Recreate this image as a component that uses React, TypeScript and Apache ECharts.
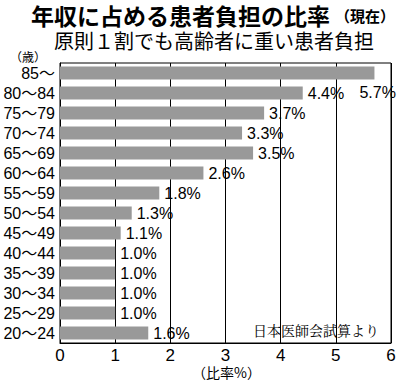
import React, { useEffect, useRef } from "react";
import * as echarts from "echarts";

const categories = ["85～", "80～84", "75～79", "70～74", "65～69", "60～64", "55～59", "50～54", "45～49", "40～44", "35～39", "30～34", "25～29", "20～24"];
const values = [5.7, 4.4, 3.7, 3.3, 3.5, 2.6, 1.8, 1.3, 1.1, 1.0, 1.0, 1.0, 1.0, 1.6];
const xTicks = [0, 1, 2, 3, 4, 5, 6];

const FONT = '"Noto Sans CJK JP", "Noto Sans", sans-serif';
const NUMFONT = '"Liberation Sans", "Noto Sans CJK JP", sans-serif';

export default function App() {
  const ref = useRef<HTMLDivElement>(null);
  useEffect(() => {
    if (!ref.current) return;
    const chart = echarts.init(ref.current, null, { renderer: "svg" });
    chart.setOption({
      animation: false,
      backgroundColor: "#fff",
      textStyle: { fontFamily: FONT },
      graphic: [
        { type: "text", x: 31, y: 15, style: { text: "年収に占める患者負担の比率", font: `bold 23px ${FONT}`, lineHeight: 24, fill: "#000", verticalAlign: "middle" } },
        { type: "text", x: 335, y: 15, style: { text: "（現在）", font: `bold 15px ${FONT}`, lineHeight: 16, fill: "#000", verticalAlign: "middle" } },
        { type: "text", x: 54, y: 40, style: { text: "原則１割でも高齢者に重い患者負担", font: `20px ${FONT}`, lineHeight: 21, fill: "#000", verticalAlign: "middle" } },
        { type: "text", x: 10, y: 56, style: { text: "（歳）", font: `12px ${FONT}`, lineHeight: 13, fill: "#000", verticalAlign: "middle" } },
        { type: "text", x: 192, y: 372, style: { text: "（比率%）", font: `14px ${FONT}`, lineHeight: 15, fill: "#000", verticalAlign: "middle" } },
        { type: "text", x: 253, y: 330, style: { text: "日本医師会試算より", font: `14px "Noto Serif CJK JP", serif`, lineHeight: 15, fill: "#000", verticalAlign: "middle" } },
      ],
      grid: { left: 60, top: 63, width: 331, height: 280, show: true, borderColor: "#000", borderWidth: 1, containLabel: false },
      xAxis: {
        type: "value",
        min: xTicks[0],
        max: xTicks[xTicks.length - 1],
        interval: 1,
        axisLine: { show: true, lineStyle: { color: "#000", width: 1 } },
        axisTick: { show: true, inside: true, length: 3, lineStyle: { color: "#000" } },
        splitLine: { show: true, lineStyle: { color: "#000", width: 1 } },
        axisLabel: { fontSize: 17, lineHeight: 17, color: "#000", margin: 4, fontFamily: NUMFONT },
      },
      yAxis: {
        type: "category",
        inverse: true,
        data: categories,
        axisLine: { show: true, lineStyle: { color: "#000", width: 1 } },
        axisTick: { show: false },
        axisLabel: { fontSize: 16, lineHeight: 17, color: "#000", margin: 5, interval: 0, fontFamily: NUMFONT },
      },
      series: [
        {
          type: "bar",
          barWidth: 13,
          data: values.map((v, i) =>
            i === 0
              ? { value: v, label: { show: true, position: "right", offset: [-20, 19] } }
              : { value: v }
          ),
          itemStyle: { color: "#999999" },
          label: {
            show: true,
            position: "right",
            distance: 5,
            offset: [0, 0],
            formatter: (p: any) => `${p.value.toFixed(1)}%`,
            fontSize: 16,
            lineHeight: 17,
            color: "#000",
            fontFamily: NUMFONT,
          },
          z: 3,
        },
      ],
    });
    return () => chart.dispose();
  }, []);
  return <div ref={ref} style={{ width: 399, height: 386, position: "absolute", left: 0, top: 0 }} />;
}
